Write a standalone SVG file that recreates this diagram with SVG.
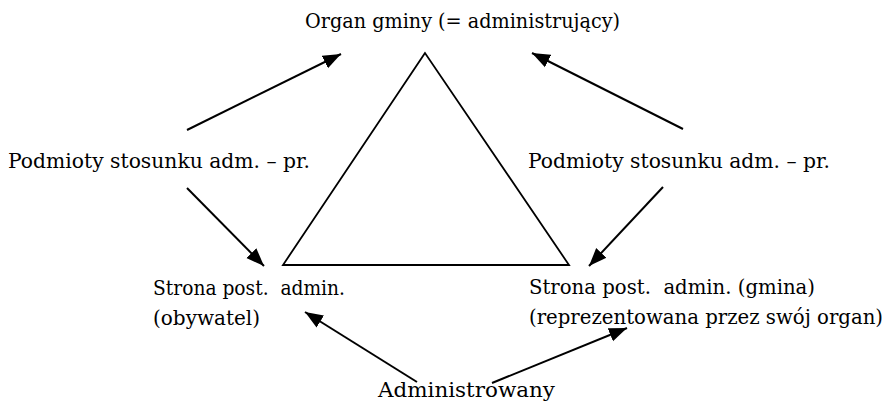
<svg xmlns="http://www.w3.org/2000/svg" width="888" height="403" viewBox="0 0 888 403">
  <defs>
    <style>
      .t { font-family: "DejaVu Serif", "Liberation Serif", serif; font-size: 20px; fill: #000; white-space: pre; }
      .c { stroke: #000; stroke-width: 2; fill: none; marker-end: url(#ah); }
      .tri { stroke: #000; stroke-width: 1.8; fill: none; stroke-linejoin: miter; }
    </style>
    <marker id="ah" markerUnits="userSpaceOnUse" markerWidth="19" markerHeight="16" refX="18" refY="8" orient="auto">
      <path d="M0,1 L18,8 L0,15 z" fill="#000"/>
    </marker>
  </defs>
  <rect width="888" height="403" fill="#fff"/>
  <g id="triangle">
    <polygon class="tri" points="425,53 283,265 569,265"/>
  </g>
  <g id="organ">
    <text class="t" x="305" y="28" textLength="315" lengthAdjust="spacingAndGlyphs">Organ gminy (= administrujący)</text>
  </g>
  <g id="podmioty-left">
    <text class="t" x="8" y="168" textLength="302" lengthAdjust="spacingAndGlyphs">Podmioty stosunku adm. – pr.</text>
  </g>
  <g id="podmioty-right">
    <text class="t" x="528" y="168" textLength="302" lengthAdjust="spacingAndGlyphs">Podmioty stosunku adm. – pr.</text>
  </g>
  <g id="strona-left">
    <text class="t" x="153" y="295" textLength="192" lengthAdjust="spacingAndGlyphs" xml:space="preserve">Strona post.  admin.</text>
    <text class="t" x="153" y="325" textLength="107" lengthAdjust="spacingAndGlyphs">(obywatel)</text>
  </g>
  <g id="strona-right">
    <text class="t" x="529" y="294" textLength="286" lengthAdjust="spacingAndGlyphs" xml:space="preserve">Strona post.  admin. (gmina)</text>
    <text class="t" x="529" y="324" textLength="354" lengthAdjust="spacingAndGlyphs">(reprezentowana przez swój organ)</text>
  </g>
  <g id="administrowany">
    <text class="t" x="378" y="397" textLength="177" lengthAdjust="spacingAndGlyphs">Administrowany</text>
  </g>
  <g id="connectors">
    <line class="c" x1="187" y1="130" x2="341" y2="54"/>
    <line class="c" x1="683" y1="129" x2="532" y2="53"/>
    <line class="c" x1="187" y1="188" x2="264" y2="266"/>
    <line class="c" x1="663" y1="187" x2="589" y2="266"/>
    <line class="c" x1="417" y1="382" x2="305" y2="312"/>
    <line class="c" x1="492" y1="383" x2="627" y2="328"/>
  </g>
</svg>
